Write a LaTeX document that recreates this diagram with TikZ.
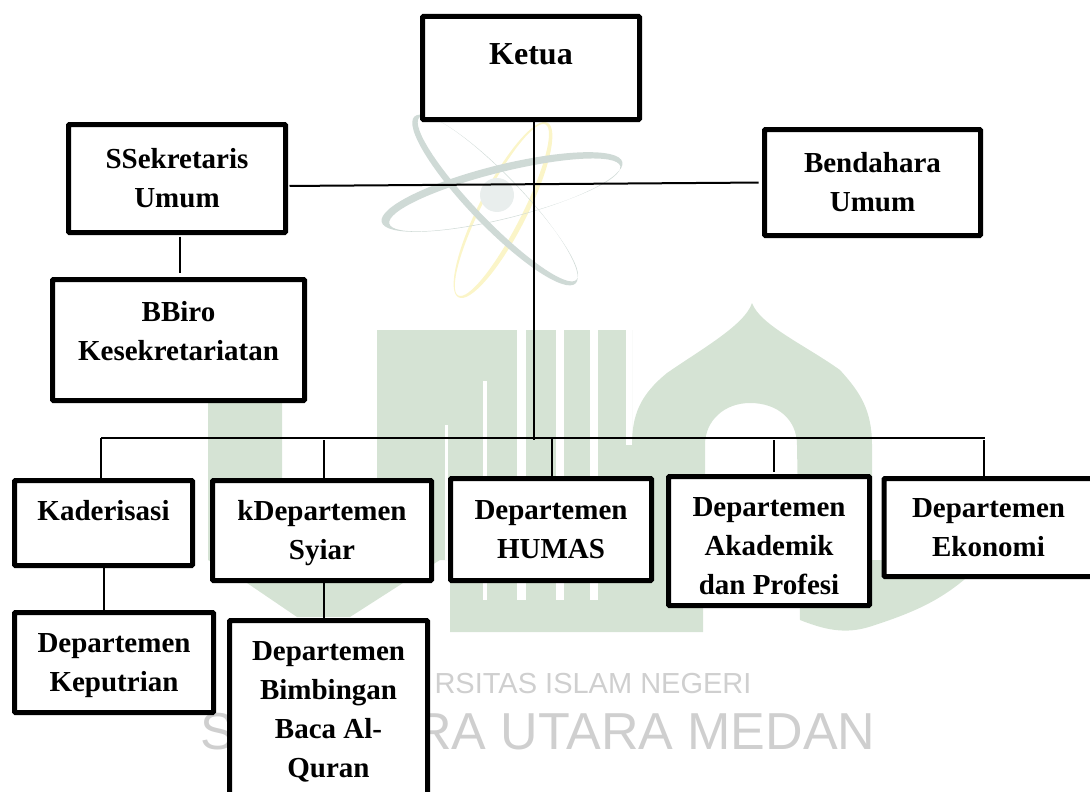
\documentclass[tikz,border=0pt]{standalone}
\usepackage{fontspec}
\setmainfont{Liberation Serif}
\newfontfamily\wmfont{Liberation Sans}
\definecolor{wm_green}{HTML}{D5E3D4}
\definecolor{wm_gray}{HTML}{CFDAD6}
\definecolor{wm_yellow}{HTML}{FBF5C8}
\definecolor{wm_text}{HTML}{CFCFCF}

\begin{document}
\begin{tikzpicture}[
    x=1pt, y=-1pt,
    org_box/.style={draw=black, fill=white, line width=5pt, rounded corners=1pt, outer sep=0pt,
        inner sep=0pt, align=center, font=\fontsize{29}{39}\selectfont\bfseries},
    conn/.style={draw=black, line width=2pt}
]
\useasboundingbox (0,0) rectangle (1090,792);

% --- Watermark: logo ---
\begin{scope}[wm_green]
    % U
    \fill (208,330) -- (208,560) -- (247,583) -- (297,617) -- (350,617) -- (403,583) -- (440,560)
        -- (450,560) -- (450,632) -- (703,632) -- (703,583) -- (632,583) -- (632,330) -- (377,330)
        -- (377,540) -- (330,565) -- (282,540) -- (282,330) -- cycle;
    % Cupola
    \fill (752,303) .. controls (745,325) and (700,350) .. (667,373)
        .. controls (640,395) and (632,415) .. (632,445) -- (632,600) -- (705,600) -- (705,445)
        .. controls (705,420) and (725,403) .. (750,403)
        .. controls (778,403) and (797,420) .. (797,445)
        -- (800,620) .. controls (830,632) and (850,634) .. (875,625)
        .. controls (915,612) and (940,600) .. (965,579) -- (965,560) -- (872,560) -- (872,445)
        .. controls (872,410) and (860,392) .. (840,370)
        .. controls (805,345) and (760,325) .. (752,303) -- cycle;
\end{scope}
% Slits of the letters
\fill[white] (517,330) rectangle (526,600);
\fill[white] (556,330) rectangle (564,600);
\fill[white] (590,330) rectangle (598,600);
\fill[white] (626,330) rectangle (632,445);
\fill[white] (483,381) rectangle (487,600);
\fill[white] (445,425) rectangle (448,560);

% --- Watermark: atom ---
\fill[wm_yellow, even odd rule, rotate around={63:(503,210)}]
    (503,210) ellipse [x radius=98, y radius=24] (502.5,209) ellipse [x radius=96, y radius=20];
\fill[wm_gray, even odd rule, rotate around={14:(502,192)}]
    (502,192) ellipse [x radius=124, y radius=27] (504,195.5) ellipse [x radius=119, y radius=23];
\fill[wm_gray, even odd rule, rotate around={-46:(495,200)}]
    (495,200) ellipse [x radius=116, y radius=26] (496,197) ellipse [x radius=113, y radius=22.5];
\fill[wm_gray!45] (497,195) circle (17);

% --- Watermark: text ---
\node[wm_text, anchor=east, font=\wmfont\fontsize{29}{29}\selectfont] (wm_univ) at (755,684) {RSITAS ISLAM NEGERI};
\node[wm_text, anchor=west, font=\wmfont\fontsize{52}{52}\selectfont] (wm_s) at (197,732) {S};
\node[wm_text, anchor=east, font=\wmfont\fontsize{52}{52}\selectfont] (wm_city) at (879,732) {RA UTARA MEDAN};

% --- Pimpinan ---
\node[org_box, minimum width=217pt, minimum height=103pt, font=\fontsize{32}{39}\selectfont\bfseries] (ketua) at (531,68) {Ketua\\[-11pt]\mbox{}};
\node[org_box, minimum width=217pt, minimum height=108pt] (sekretaris) at (177,178.5) {SSekretaris\\Umum};
\node[org_box, minimum width=216pt, minimum height=106pt] (bendahara) at (872.5,182.5) {Bendahara\\Umum};
\node[org_box, minimum width=252pt, minimum height=121pt] (biro) at (178.5,340) {BBiro\\Kesekretariatan\\[-21pt]\mbox{}};

% --- Departemen ---
\node[org_box, minimum width=178pt, minimum height=85pt] (kaderisasi) at (103.5,523) {Kaderisasi\\[-13pt]\mbox{}};
\node[org_box, minimum width=219pt, minimum height=100pt] (syiar) at (322,530.5) {\mbox{}\\[-13pt]kDepartemen\\Syiar};
\node[org_box, minimum width=201pt, minimum height=102pt] (humas) at (551,529.5) {Departemen\\HUMAS};
\node[org_box, minimum width=201pt, minimum height=129pt] (akademik) at (769,541) {\mbox{}\\[-9pt]Departemen\\Akademik\\dan Profesi};
\node[org_box, minimum width=209pt, minimum height=98pt] (ekonomi) at (988.5,527.5) {Departemen\\Ekonomi};
\node[org_box, minimum width=199pt, minimum height=100pt] (keputrian) at (114,662.5) {\mbox{}\\[-13pt]Departemen\\Keputrian};
\node[org_box, minimum width=198pt, minimum height=177pt] (bimbingan) at (328.5,709) {\mbox{}\\[-14pt]Departemen\\Bimbingan\\Baca Al-\\Quran};

% --- Garis ---
\coordinate (hub) at (534,440);
\coordinate (bus_l) at (101,438);
\coordinate (bus_r) at (985,438);
\draw[conn] (hub |- ketua.south) -- (hub);
\draw[conn, shorten <=4pt, shorten >=6pt] ([yshift=-7.5pt]sekretaris.east) -- (bendahara.west);
\draw[conn, shorten <=4pt, shorten >=7pt] ([xshift=3pt]sekretaris.south) -- ([xshift=1.5pt]biro.north);
\draw[conn] (bus_l) -- (bus_r);
\draw[conn] (bus_l) -- (bus_l |- kaderisasi.north);
\draw[conn, shorten <=2pt] ([xshift=2pt]syiar.north |- bus_l) -- ([xshift=2pt]syiar.north);
\draw[conn, shorten >=3pt] ([xshift=1pt]humas.north |- bus_l) -- ([xshift=1pt]humas.north);
\draw[conn, shorten <=2pt, shorten >=5pt] ([xshift=5pt]akademik.north |- bus_l) -- ([xshift=5pt]akademik.north);
\draw[conn, shorten <=2pt] ([xshift=-4.5pt]ekonomi.north |- bus_l) -- ([xshift=-4.5pt]ekonomi.north);
\draw[conn] (kaderisasi.south) -- (kaderisasi.south |- keputrian.north);
\draw[conn] ([xshift=2pt]syiar.south) -- ([xshift=2pt]syiar.south |- bimbingan.north);

\end{tikzpicture}
\end{document}
